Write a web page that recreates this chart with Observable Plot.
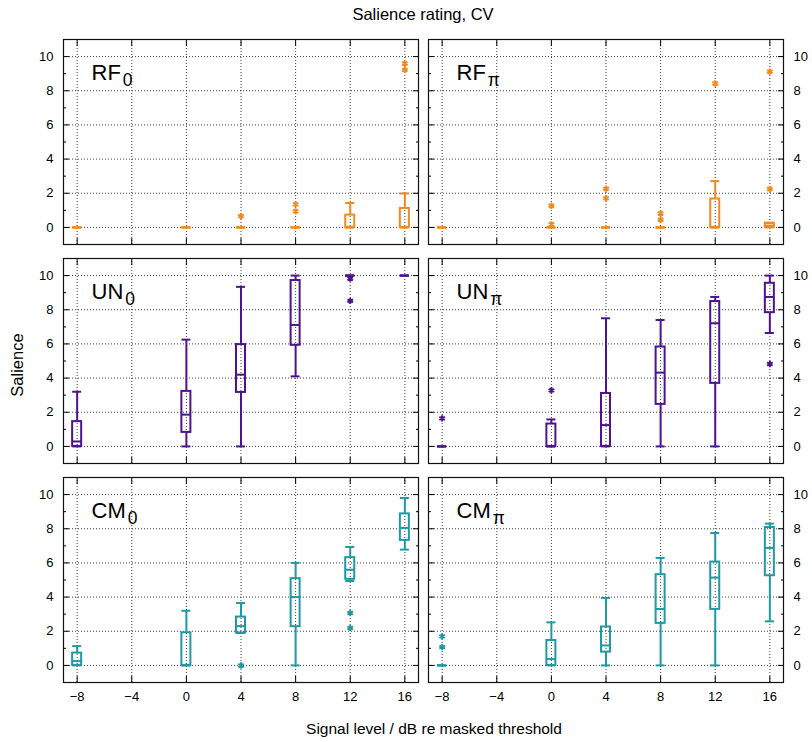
<!DOCTYPE html>
<html><head><meta charset="utf-8">
<script src="https://cdn.jsdelivr.net/npm/d3@7"></script>
<script src="https://cdn.jsdelivr.net/npm/@observablehq/plot@0.6"></script>
<style>body{margin:0;background:#fff}</style>
</head><body><div id="chart"></div>
<script>
// ---------- data ----------
const levels = [-8, 0, 4, 8, 12, 16];
const xTicks = [-8, -4, 0, 4, 8, 12, 16];
const yMajor = [0, 2, 4, 6, 8, 10];
const yMinor = [1, 3, 5, 7, 9];
const rows = ["RF", "UN", "CM"];
const cols = ["0", "π"];
const rowColors = {RF: "#f28a1e", UN: "#4e138f", CM: "#1f9aa3"};

// RF0
const rf0Low  = [0, 0, 0, 0, 0, 0];
const rf0Q1   = [0, 0, 0, 0, 0, 0];
const rf0Med  = [0, 0, 0, 0, 0, 0];
const rf0Q3   = [0, 0, 0, 0, 0.72, 1.11];
const rf0High = [0, 0, 0, 0, 1.43, 1.99];
const rf0OutX = [4, 8, 8, 16, 16];
const rf0OutY = [0.66, 1.35, 0.94, 9.6, 9.22];
// RFπ
const rfpLow  = [0, 0, 0, 0, 0, 0];
const rfpQ1   = [0, 0, 0, 0, 0, 0];
const rfpMed  = [0, 0, 0, 0, 0, 0.1];
const rfpQ3   = [0, 0, 0, 0, 1.66, 0.25];
const rfpHigh = [0, 0, 0, 0, 2.71, 0.25];
const rfpOutX = [0, 0, 4, 4, 8, 8, 12, 16, 16];
const rfpOutY = [0.18, 1.27, 2.27, 1.7, 0.82, 0.45, 8.42, 2.25, 9.12];
// UN0
const un0Low  = [0, 0, 0, 4.1, 10, 10];
const un0Q1   = [0, 0.82, 3.16, 5.92, 10, 10];
const un0Med  = [0.29, 1.86, 4.2, 7.11, 10, 10];
const un0Q3   = [1.45, 3.22, 5.96, 9.71, 10, 10];
const un0High = [3.2, 6.25, 9.34, 10, 10, 10];
const un0OutX = [12, 12];
const un0OutY = [9.82, 8.52];
// UNπ
const unpLow  = [0, 0, 0, 0, 0, 6.64];
const unpQ1   = [0, 0, 0, 2.46, 3.69, 7.83];
const unpMed  = [0, 0, 1.25, 4.32, 7.21, 8.75];
const unpQ3   = [0, 1.31, 3.1, 5.82, 8.48, 9.55];
const unpHigh = [0, 1.58, 7.5, 7.4, 8.75, 10];
const unpOutX = [-8, 0, 16];
const unpOutY = [1.64, 3.28, 4.82];
// CM0
const cm0Low  = [0, 0, 1.9, 0, 4.94, 6.78];
const cm0Q1   = [0, 0, 1.9, 2.27, 5.04, 7.32];
const cm0Med  = [0.25, 0, 2.3, 4.0, 5.6, 8.05];
const cm0Q3   = [0.72, 1.91, 2.83, 5.08, 6.31, 8.87];
const cm0High = [1.13, 3.2, 3.65, 6.0, 6.93, 9.8];
const cm0OutX = [4, 12, 12];
const cm0OutY = [0, 3.07, 2.19];
// CMπ
const cmpLow  = [0, 0, 0, 0, 0, 2.58];
const cmpQ1   = [0, 0, 0.78, 2.46, 3.28, 5.25];
const cmpMed  = [0, 0.37, 1.17, 3.3, 5.14, 6.88];
const cmpQ3   = [0, 1.46, 2.25, 5.31, 6.05, 8.07];
const cmpHigh = [0, 2.52, 3.95, 6.29, 7.75, 8.3];
const cmpOutX = [-8, -8];
const cmpOutY = [1.07, 1.7];

const panels = [
  {row: "RF", col: "0", low: rf0Low, q1: rf0Q1, med: rf0Med, q3: rf0Q3, high: rf0High, outX: rf0OutX, outY: rf0OutY},
  {row: "RF", col: "π", low: rfpLow, q1: rfpQ1, med: rfpMed, q3: rfpQ3, high: rfpHigh, outX: rfpOutX, outY: rfpOutY},
  {row: "UN", col: "0", low: un0Low, q1: un0Q1, med: un0Med, q3: un0Q3, high: un0High, outX: un0OutX, outY: un0OutY},
  {row: "UN", col: "π", low: unpLow, q1: unpQ1, med: unpMed, q3: unpQ3, high: unpHigh, outX: unpOutX, outY: unpOutY},
  {row: "CM", col: "0", low: cm0Low, q1: cm0Q1, med: cm0Med, q3: cm0Q3, high: cm0High, outX: cm0OutX, outY: cm0OutY},
  {row: "CM", col: "π", low: cmpLow, q1: cmpQ1, med: cmpMed, q3: cmpQ3, high: cmpHigh, outX: cmpOutX, outY: cmpOutY}
];

// ---------- tables ----------
const boxes = [];
const outliers = [];
const labels = [];
for (const p of panels) {
  levels.forEach((x, i) => boxes.push({row: p.row, col: p.col, x, low: p.low[i], q1: p.q1[i], med: p.med[i], q3: p.q3[i], high: p.high[i], color: rowColors[p.row]}));
  p.outX.forEach((x, i) => outliers.push({row: p.row, col: p.col, x, y: p.outY[i], color: rowColors[p.row]}));
  labels.push({row: p.row, col: p.col, text: p.row + "|" + p.col});
}

const HALF = 0.33; // half box width in x units
const F = {fx: "col", fy: "row"};
const lw = 2;

const svg = Plot.plot({
  width: 812,
  height: 742,
  marginTop: 38,
  marginBottom: 60,
  marginLeft: 63,
  marginRight: 29,
  style: {fontFamily: "'Liberation Sans', Arial, sans-serif", fontSize: "13px", background: "#fff", color: "#000"},
  x: {domain: [-9, 17], axis: null},
  y: {domain: [-1, 11], axis: null},
  fx: {domain: cols, axis: null, paddingInner: 0.0274, paddingOuter: 0},
  fy: {domain: rows, axis: null, paddingInner: 0.066, paddingOuter: 0},
  color: {type: "identity"},
  marks: [
    Plot.gridX(xTicks, {stroke: "#000", strokeOpacity: 0.75, strokeDasharray: "1,2", strokeWidth: 1}),
    Plot.gridY(yMajor, {stroke: "#000", strokeOpacity: 0.75, strokeDasharray: "1,2", strokeWidth: 1}),
    // inward ticks on every panel
    Plot.axisY(yMajor, {anchor: "left", tickSize: -6, tickFormat: () => "", facetAnchor: null, label: null}),
    Plot.axisY(yMajor, {anchor: "right", tickSize: -6, tickFormat: () => "", facetAnchor: null, label: null}),
    Plot.axisY(yMinor, {anchor: "left", tickSize: -3, tickFormat: () => "", facetAnchor: null, label: null}),
    Plot.axisY(yMinor, {anchor: "right", tickSize: -3, tickFormat: () => "", facetAnchor: null, label: null}),
    Plot.axisX(xTicks, {anchor: "bottom", tickSize: -6, tickFormat: () => "", facetAnchor: null, label: null}),
    Plot.axisX(xTicks, {anchor: "top", tickSize: -6, tickFormat: () => "", facetAnchor: null, label: null}),
    // tick labels on outer panels
    Plot.axisY(yMajor, {anchor: "left", tickSize: 0, tickPadding: 10, label: null}),
    Plot.axisY(yMajor, {anchor: "right", tickSize: 0, tickPadding: 10, label: null}),
    Plot.axisX(xTicks, {anchor: "bottom", tickSize: 0, tickPadding: 9, label: null}),
    Plot.frame({stroke: "#111", strokeWidth: 1.2}),
    // box plots
    Plot.ruleX(boxes, {...F, x: "x", y1: "low", y2: "q1", stroke: "color", strokeWidth: lw}),
    Plot.ruleX(boxes, {...F, x: "x", y1: "q3", y2: "high", stroke: "color", strokeWidth: lw}),
    Plot.ruleY(boxes, {...F, y: "low", x1: d => d.x - HALF, x2: d => d.x + HALF, stroke: "color", strokeWidth: lw}),
    Plot.ruleY(boxes, {...F, y: "high", x1: d => d.x - HALF, x2: d => d.x + HALF, stroke: "color", strokeWidth: lw}),
    Plot.rect(boxes, {...F, x1: d => d.x - HALF, x2: d => d.x + HALF, y1: "q1", y2: "q3", fill: "none", stroke: "color", strokeWidth: lw}),
    Plot.ruleY(boxes, {...F, y: "med", x1: d => d.x - HALF, x2: d => d.x + HALF, stroke: "color", strokeWidth: lw}),
    Plot.dot(outliers, {...F, x: "x", y: "y", symbol: "asterisk", r: 3, stroke: "color", strokeWidth: 2}),
    // panel labels
    Plot.text(labels, {...F, text: "text", frameAnchor: "top-left", dx: 28, dy: 40, lineAnchor: "bottom", textAnchor: "start", fontSize: 22})
  ]
});

// subscripts for panel labels
const NS = "http://www.w3.org/2000/svg";
svg.querySelectorAll("text").forEach(t => {
  const s = t.textContent;
  if (s.includes("|")) {
    const [main, sub] = s.split("|");
    t.textContent = "";
    const a = document.createElementNS(NS, "tspan");
    a.textContent = main;
    t.appendChild(a);
    const b = document.createElementNS(NS, "tspan");
    b.textContent = sub;
    b.setAttribute("dx", "2");
    b.setAttribute("dy", "6");
    b.setAttribute("font-size", "17.5");
    t.appendChild(b);
  }
});

// titles
const s = d3.select(svg);
const fam = "'Liberation Sans', Arial, sans-serif";
s.append("text").attr("x", 423).attr("y", 16).attr("text-anchor", "middle").attr("dominant-baseline", "middle")
  .attr("font-size", 16.5).attr("font-family", fam).attr("fill", "#000").text("Salience rating, CV");
s.append("text").attr("transform", "translate(19,365) rotate(-90)").attr("text-anchor", "middle").attr("dominant-baseline", "middle")
  .attr("font-size", 16.5).attr("font-family", fam).attr("fill", "#000").text("Salience");
s.append("text").attr("x", 434).attr("y", 730).attr("text-anchor", "middle").attr("dominant-baseline", "middle")
  .attr("font-size", 15.5).attr("font-family", fam).attr("fill", "#000").text("Signal level / dB re masked threshold");

document.getElementById("chart").appendChild(svg);
</script>
</body></html>
